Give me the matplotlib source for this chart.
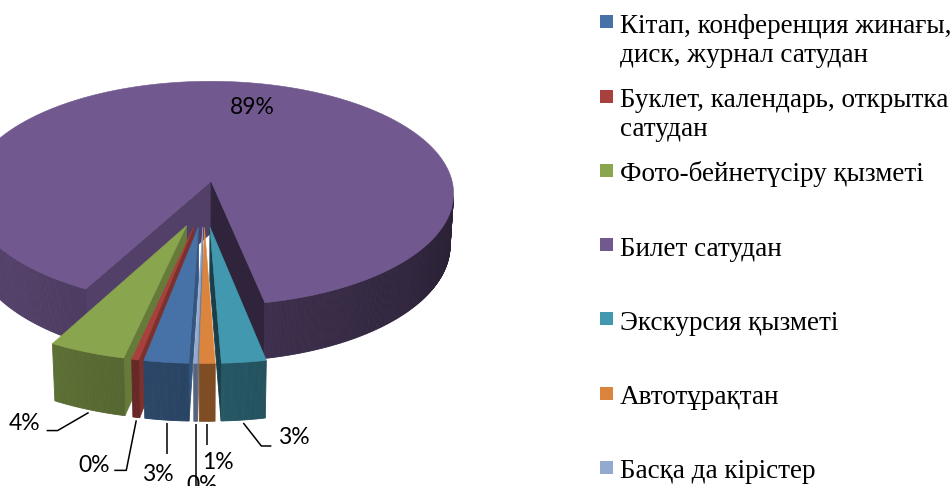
import numpy as np
import matplotlib
matplotlib.use("Agg")
import matplotlib.pyplot as plt
from matplotlib.patches import Polygon, Rectangle
from matplotlib.colors import to_rgb

# ---------------- data ----------------
categories = ["Кітап, конференция жинағы,\nдиск, журнал сатудан",
              "Буклет, календарь, открытка\nсатудан",
              "Фото-бейнетүсіру қызметі",
              "Билет сатудан",
              "Экскурсия қызметі",
              "Автотұрақтан",
              "Басқа да кірістер"]
values = [2.55, 0.4, 4.4, 89.0, 2.55, 0.9, 0.2]
colors = ["#4672A8", "#A8413E", "#89A54E", "#71588F", "#4298AF", "#DB843D", "#93A9D0"]

# label layout: (leader polyline offsets from anchor, text offset from anchor)
label_layout = [
    ([(0, 0), (0, 31)], (-9, 51)),
    ([(0, 0), (-10, 50), (-22, 50)], (-42, 45)),
    ([(0, 0), (-31, 18), (-42, 18)], (-64, 11)),
    (None, (19, -2)),
    ([(0, 0), (18, 23), (28, 23)], (50, 15)),
    ([(0, 0), (0, 21)], (11, 38)),
    ([(0, 0), (0, 66)], (7, 61)),
]

# ---------------- projection ----------------
CX, CY = 204.0, 203.6
F = 1970.0
DIST = 8.0
ELEV = np.radians(28)
SA, CA = np.sin(ELEV), np.cos(ELEV)
HGT = 0.245
EXPLODE = 0.2
START = 268.2
CAM = np.array([0.0, DIST * CA, DIST * SA])


def proj(X, Y, Z):
    X = np.asarray(X, float); Y = np.asarray(Y, float); Z = np.asarray(Z, float)
    d = DIST - Y * CA - Z * SA
    v = -Y * SA + Z * CA
    return CX + F * X / d, CY - F * v / d


def shade(c, f):
    r, g, b = to_rgb(c)
    return (min(1, r * f), min(1, g * f), min(1, b * f))


fig = plt.figure(figsize=(9.53, 4.86), dpi=100)
ax = fig.add_axes([0, 0, 1, 1])
ax.set_xlim(0, 953)
ax.set_ylim(486, 0)
ax.axis("off")

total = float(sum(values))
side_faces = []   # (distance, xy, color)
top_faces = []
slices = []
theta = START
for i, v in enumerate(values):
    span = v / total * 360.0
    t_hi = theta
    t_lo = theta - span
    theta = t_lo
    tm = np.radians((t_hi + t_lo) / 2)
    ox, oy = EXPLODE * np.cos(tm), -EXPLODE * np.sin(tm)
    slices.append((t_lo, t_hi, ox, oy))
    n = max(3, int(span * 2))
    ts = np.radians(np.linspace(t_lo, t_hi, n))
    Xs = ox + np.cos(ts)
    Ys = oy - np.sin(ts)
    # top face
    tx, ty = proj(np.r_[ox, Xs], np.r_[oy, Ys], np.zeros(n + 1))
    top_faces.append((np.column_stack([tx, ty]), colors[i]))
    # outer side quads
    for j in range(n - 1):
        tmid = (ts[j] + ts[j + 1]) / 2
        nx, ny = np.cos(tmid), -np.sin(tmid)
        P = np.array([(Xs[j] + Xs[j + 1]) / 2, (Ys[j] + Ys[j + 1]) / 2, -HGT / 2])
        vv = CAM - P
        if nx * vv[0] + ny * vv[1] <= 0:
            continue
        qx, qy = proj([Xs[j], Xs[j + 1], Xs[j + 1], Xs[j]],
                      [Ys[j], Ys[j + 1], Ys[j + 1], Ys[j]],
                      [0, 0, -HGT, -HGT])
        col = shade(colors[i], 0.58 - 0.2 * nx)
        side_faces.append((np.linalg.norm(vv), np.column_stack([qx, qy]), col))
    # radial cut faces
    for t, sgn in ((np.radians(t_hi), 1), (np.radians(t_lo), -1)):
        nx, ny = (-np.sin(t), -np.cos(t)) if sgn > 0 else (np.sin(t), np.cos(t))
        ex, ey = ox + np.cos(t), oy - np.sin(t)
        P = np.array([(ox + ex) / 2, (oy + ey) / 2, -HGT / 2])
        vv = CAM - P
        if nx * vv[0] + ny * vv[1] <= 0:
            continue
        qx, qy = proj([ox, ex, ex, ox], [oy, ey, ey, oy], [0, 0, -HGT, -HGT])
        col = shade(colors[i], 0.58 + 0.17 * nx)
        side_faces.append((np.linalg.norm(vv), np.column_stack([qx, qy]), col))

side_faces.sort(key=lambda s: -s[0])
for _, xy, col in side_faces:
    ax.add_patch(Polygon(xy, closed=True, facecolor=col, edgecolor=col, lw=0.6))
for xy, col in top_faces:
    ax.add_patch(Polygon(xy, closed=True, facecolor=col, edgecolor=col, lw=0.4))

# ---------------- data labels ----------------
lab_font = dict(family=["Lato", "DejaVu Sans"], fontsize=16.5, color="black")
for i, v in enumerate(values):
    t_lo, t_hi, ox, oy = slices[i]
    tm = np.radians((t_lo + t_hi) / 2)
    leader, toff = label_layout[i]
    if leader is None:
        ax0, ay0 = proj(ox + 0.7 * np.cos(tm), oy - 0.7 * np.sin(tm), 0.0)
    else:
        ax0, ay0 = proj(ox + np.cos(tm), oy - np.sin(tm), -HGT)
        ay0 = ay0 + 3
        lx = [ax0 + p[0] for p in leader]
        ly = [ay0 + p[1] for p in leader]
        ax.plot(lx, ly, color="black", lw=1.1, solid_capstyle="butt")
    ax.text(ax0 + toff[0], ay0 + toff[1], "%.0f%%" % v, ha="center", va="center",
            **lab_font)

# ---------------- legend ----------------
leg_font = dict(family=["Liberation Serif", "DejaVu Serif"], fontsize=19.5, color="black")
for i, (cat, col) in enumerate(zip(categories, colors)):
    base = 33 + 74.2 * i
    ax.add_patch(Rectangle((600, base - 17.5), 13, 13, facecolor=col, edgecolor="none"))
    for k, line in enumerate(cat.split("\n")):
        ax.text(620, base + 29 * k, line, ha="left", va="baseline", **leg_font)

fig.savefig("out.png", dpi=100)
